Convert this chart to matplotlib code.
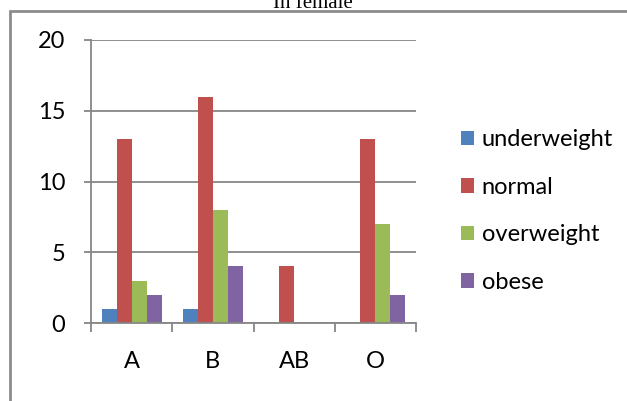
import matplotlib
matplotlib.use('Agg')
import matplotlib.pyplot as plt
import numpy as np
from matplotlib.patches import Rectangle

categories = ['A', 'B', 'AB', 'O']
series_names = ['underweight', 'normal', 'overweight', 'obese']
underweight = [1, 1, 0, 0]
normal = [13, 16, 4, 13]
overweight = [3, 8, 0, 7]
obese = [2, 4, 0, 2]
y_ticks = [0, 5, 10, 15, 20]

colors = ['#4F81BD', '#C0504D', '#9BBB59', '#8064A2']
grey = '#868686'

W, H = 627, 401
fig = plt.figure(figsize=(W / 100, H / 100), dpi=100)
plt.rcParams['font.family'] = ['Lato', 'DejaVu Sans']
fs = 17

# plot area in pixels
left, right, top, bottom = 91, 416, 40, 323
ax = fig.add_axes([left / W, (H - bottom) / H, (right - left) / W, (bottom - top) / H])

x = np.arange(len(categories))
bar_w = 0.185
values = [underweight, normal, overweight, obese]
for i, (name, vals) in enumerate(zip(series_names, values)):
    ax.bar(x + (i - 1.5) * bar_w, vals, bar_w, color=colors[i], label=name, zorder=3)

ax.set_xlim(-0.5, len(categories) - 0.5)
ax.set_ylim(0, 20)
ax.set_yticks(y_ticks)
ax.set_yticklabels([str(t) for t in y_ticks], fontsize=fs)
ax.set_xticks(np.arange(len(categories) + 1) - 0.5)
ax.set_xticklabels([])
ax.set_xticks(x, minor=True)
ax.set_xticklabels(categories, minor=True, fontsize=fs)
ax.tick_params(axis='x', which='minor', length=0, pad=20)
ax.tick_params(axis='x', which='major', length=6.5, color=grey, width=1.3)
ax.tick_params(axis='y', length=5, color=grey, width=1.3, pad=13.5)
ax.yaxis.grid(True, color=grey, linewidth=1.3, zorder=0)
ax.set_axisbelow(True)
for s in ['top', 'right']:
    ax.spines[s].set_visible(False)
for s in ['left', 'bottom']:
    ax.spines[s].set_color(grey)
    ax.spines[s].set_linewidth(1.3)
    ax.spines[s].set_zorder(4)

ax.legend(loc='upper left', bbox_to_anchor=(452 / W, (H - 120) / H),
          bbox_transform=fig.transFigure, frameon=False, fontsize=fs,
          handlelength=0.55, handleheight=0.55, handletextpad=0.3,
          labelspacing=1.12, borderaxespad=0)

# outer chart border (only top and left visible in the crop)
fig.patches.append(Rectangle((9.5 / W, -0.1), 1.2, (H - 11) / H + 0.1,
                             transform=fig.transFigure, fill=False,
                             edgecolor='#8c8c8c', linewidth=2))

fig.text(313 / W, (H - 8) / H, 'In female', ha='center', va='baseline',
         fontsize=15, family=['Liberation Serif'])

fig.savefig('out.png', dpi=100)
